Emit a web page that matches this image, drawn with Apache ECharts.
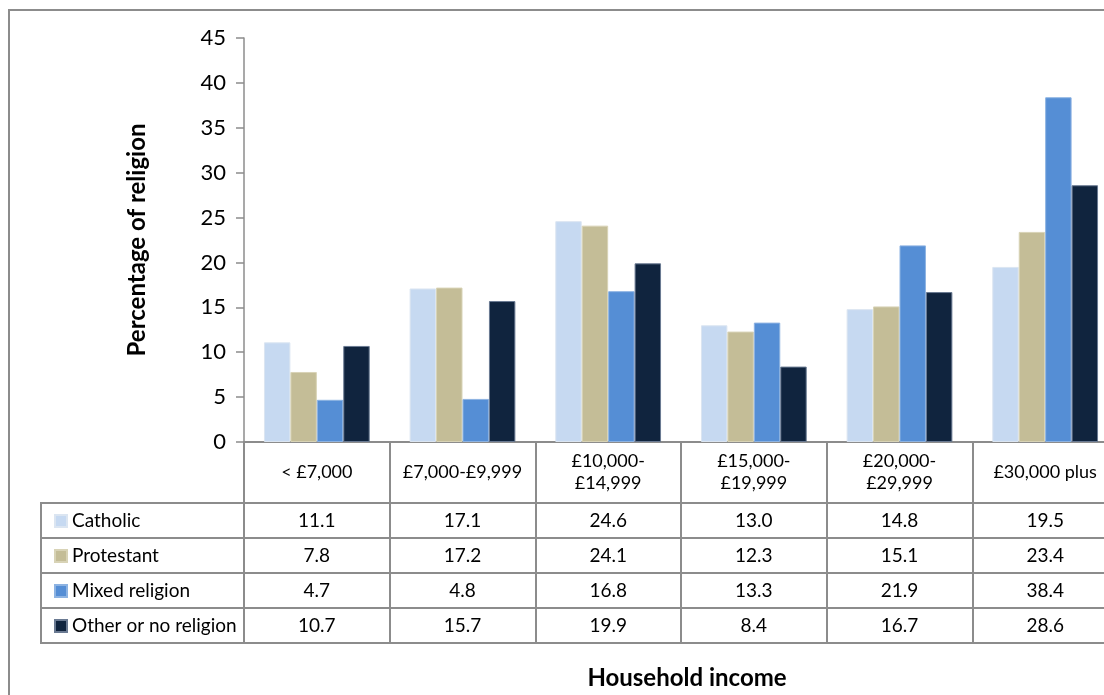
<!DOCTYPE html>
<html>
<head>
<meta charset="utf-8">
<script src="https://cdn.jsdelivr.net/npm/echarts@6/dist/echarts.min.js"></script>
<style>
html,body{margin:0;padding:0;background:#fff;}
#chart{width:1104px;height:695px;}
</style>
</head>
<body>
<div id="chart"></div>
<script>
const categories = ['< £7,000', '£7,000-£9,999', '£10,000-\n£14,999', '£15,000-\n£19,999', '£20,000-\n£29,999', '£30,000 plus'];
const seriesNames = ['Catholic', 'Protestant', 'Mixed religion', 'Other or no religion'];
const catholic = [11.1, 17.1, 24.6, 13.0, 14.8, 19.5];
const protestant = [7.8, 17.2, 24.1, 12.3, 15.1, 23.4];
const mixed = [4.7, 4.8, 16.8, 13.3, 21.9, 38.4];
const other = [10.7, 15.7, 19.9, 8.4, 16.7, 28.6];
const yTicks = {min: 0, max: 45, interval: 5};

const seriesData = [catholic, protestant, mixed, other];
const colors = ['#c6d9f1', '#c4bd97', '#558ed5', '#10243e'];
const borders = ['#dbe5f1', '#d8d3b6', '#8db3e2', '#6a7a92'];
const FONT = 'Lato';
const GRAY = '#8c8c8c';

const gridTop = 38, gridLeft = 244, gridH = 404;
const axisY = gridTop + gridH; // 442
const headerBottom = 503;
const rowH = 35;
const rowLines = [headerBottom, headerBottom + rowH, headerBottom + 2 * rowH, headerBottom + 3 * rowH, headerBottom + 4 * rowH];

const valueAxes = seriesData.map((vals, i) => ({
  type: 'category',
  gridIndex: 0,
  position: 'bottom',
  data: vals.map(v => v.toFixed(1)),
  axisLine: {show: false},
  axisTick: {show: false},
  axisLabel: {
    interval: 0,
    margin: headerBottom + rowH * i + rowH / 2 - axisY,
    verticalAlign: 'middle',
    fontFamily: FONT, fontSize: 19, color: '#000'
  }
}));

const graphics = [
  {type: 'rect', shape: {x: 9, y: 10, width: 1300, height: 900}, style: {fill: null, stroke: GRAY, lineWidth: 2}, silent: true},
  {type: 'line', shape: {x1: 41, y1: headerBottom, x2: 41, y2: rowLines[4]}, style: {stroke: GRAY, lineWidth: 2}},
  ...rowLines.map(y => ({type: 'line', shape: {x1: 40, y1: y, x2: 1110, y2: y}, style: {stroke: GRAY, lineWidth: 2}})),
  {type: 'text', x: 687, y: 678, style: {text: 'Household income', textAlign: 'center', textVerticalAlign: 'middle', font: 'bold 24px ' + FONT, fill: '#000'}}
];

const option = {
  animation: false,
  backgroundColor: '#fff',
  color: colors,
  grid: {left: gridLeft, top: gridTop, right: -14, height: gridH, containLabel: false, outerBoundsMode: 'none'},
  legend: {
    orient: 'vertical',
    left: 49, top: headerBottom + 3,
    itemWidth: 12, itemHeight: 12,
    itemGap: 15,
    icon: 'rect',
    textStyle: {fontFamily: FONT, fontSize: 19, color: '#000', lineHeight: 20},
    data: seriesNames
  },
  xAxis: [{
    type: 'category',
    data: categories,
    axisLine: {lineStyle: {color: GRAY, width: 2}},
    axisTick: {show: true, length: rowLines[4] - axisY, lineStyle: {color: GRAY, width: 2}},
    axisLabel: {interval: 0, margin: 30, verticalAlign: 'middle', lineHeight: 22, fontFamily: FONT, fontSize: 18, color: '#000'}
  }, ...valueAxes],
  yAxis: {
    type: 'value',
    min: yTicks.min, max: yTicks.max, interval: yTicks.interval,
    name: 'Percentage of religion',
    nameLocation: 'middle',
    nameGap: 95,
    nameTextStyle: {fontFamily: FONT, fontSize: 24, fontWeight: 'bold', color: '#000'},
    axisLine: {show: true, lineStyle: {color: GRAY, width: 1.5}},
    axisTick: {show: true, length: 8, lineStyle: {color: GRAY, width: 1.5}},
    axisLabel: {margin: 18, fontFamily: FONT, fontSize: 22, color: '#000'},
    splitLine: {show: false}
  },
  series: seriesData.map((d, i) => ({
    name: seriesNames[i],
    type: 'bar',
    data: d,
    barGap: '0%',
    barCategoryGap: '27.4%',
    itemStyle: {color: colors[i], borderColor: borders[i], borderWidth: 1}
  })),
  graphic: graphics
};

const chart = echarts.init(document.getElementById('chart'), null, {renderer: 'canvas'});
chart.setOption(option);
</script>
</body>
</html>
